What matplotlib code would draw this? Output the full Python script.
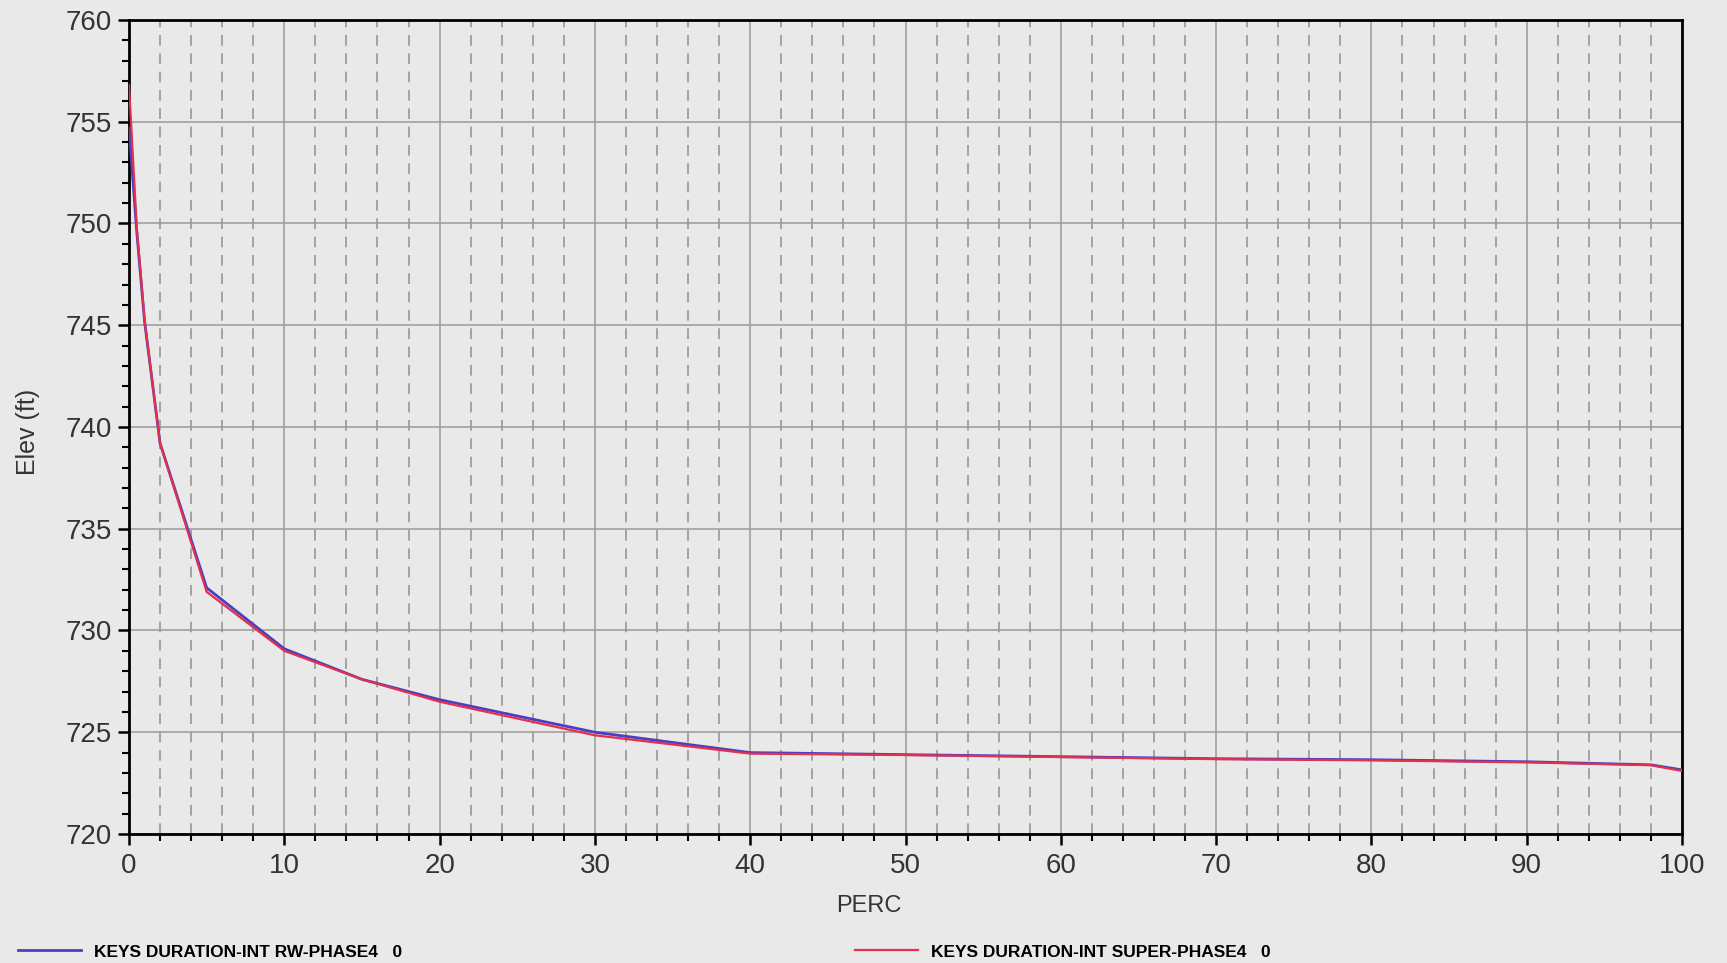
import numpy as np
import matplotlib.pyplot as plt
from matplotlib.ticker import MultipleLocator

# Duration curve data (percent exceedance vs elevation)
perc_rw = [0, 0.5, 1, 2, 5, 10, 15, 20, 30, 40, 50, 60, 70, 80, 90, 98, 100]
elev_rw = [754.7, 749.6, 745.2, 739.2, 732.1, 729.1, 727.6, 726.6, 725.0, 724.0,
           723.9, 723.8, 723.7, 723.65, 723.55, 723.4, 723.15]

perc_super = [0, 0.5, 1, 2, 5, 10, 15, 20, 30, 40, 50, 60, 70, 80, 90, 98, 100]
elev_super = [756.8, 749.8, 745.3, 739.2, 731.9, 729.0, 727.6, 726.5, 724.85, 723.95,
              723.88, 723.78, 723.68, 723.62, 723.52, 723.38, 723.1]

label_rw = "KEYS DURATION-INT RW-PHASE4   0"
label_super = "KEYS DURATION-INT SUPER-PHASE4   0"

W, H = 1727, 963
bg = "#e9e9e9"
plt.rcParams['font.family'] = ['Liberation Sans', 'DejaVu Sans']

fig = plt.figure(figsize=(W / 100, H / 100), dpi=100, facecolor=bg)
ax = fig.add_axes([129 / W, 1 - 834 / H, (1682 - 129) / W, (834 - 20) / H])
ax.set_facecolor(bg)

l1, = ax.plot(perc_rw, elev_rw, color="#4a3fc0", lw=2.0, zorder=3)
l2, = ax.plot(perc_super, elev_super, color="#e2304f", lw=1.6, zorder=4)

ax.set_xlim(0, 100)
ax.set_ylim(720, 760)
ax.xaxis.set_major_locator(MultipleLocator(10))
ax.xaxis.set_minor_locator(MultipleLocator(2))
ax.yaxis.set_major_locator(MultipleLocator(5))
ax.yaxis.set_minor_locator(MultipleLocator(1))

ax.grid(which='major', color="#9a9a9a", lw=1.1, ls='-')
ax.grid(which='minor', axis='x', color="#8f8f8f", lw=1.1, ls=(0, (7, 5)))
ax.set_axisbelow(True)

for s in ax.spines.values():
    s.set_color('black')
    s.set_linewidth(2)

ax.tick_params(which='major', direction='out', length=8, width=1.8,
               labelsize=20, labelcolor="#333333", pad=4)
ax.tick_params(which='minor', direction='out', length=5, width=1.5)
ax.tick_params(axis='x', which='major', pad=6)

fig.text(28 / W, 1 - 432 / H, "Elev (ft)", rotation=90, ha='center', va='center',
         fontsize=18, color="#333333")
fig.text(869 / W, 1 - 906 / H, "PERC", ha='center', va='center',
         fontsize=17, color="#333333")

fig.legend([l1], [label_rw], loc='center left', bbox_to_anchor=(18 / W, 1 - 952 / H),
           frameon=False, borderpad=0, borderaxespad=0, handlelength=3.6,
           handletextpad=0.8, prop={'size': 12.5, 'weight': 'bold'})
fig.legend([l2], [label_super], loc='center left', bbox_to_anchor=(855 / W, 1 - 952 / H),
           frameon=False, borderpad=0, borderaxespad=0, handlelength=3.6,
           handletextpad=0.8, prop={'size': 12.5, 'weight': 'bold'})

fig.savefig("out.png", dpi=100, facecolor=bg)
